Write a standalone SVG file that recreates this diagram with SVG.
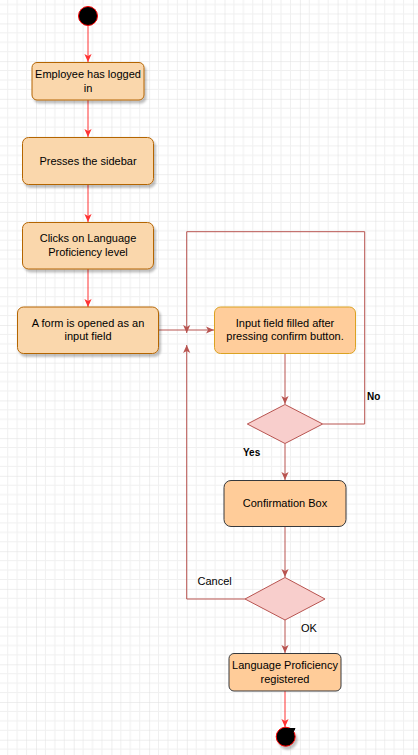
<svg xmlns="http://www.w3.org/2000/svg" width="418" height="755" viewBox="0 0 418 755">
<style>
.t{font-family:"Liberation Sans",Arial,sans-serif;font-size:11px;fill:#000;text-anchor:middle}
.l{font-family:"Liberation Sans",Arial,sans-serif;font-size:11px;fill:#000}
.b{font-weight:bold;font-size:10px}
.act{fill:#fad7ac;stroke:#b46504;stroke-width:1}
.act2{fill:#ffcc99;stroke:#36393d;stroke-width:1}
.dec{fill:#f8cecc;stroke:#b85450;stroke-width:1}
.red{fill:none;stroke:#ff3333;stroke-width:1}
.br{fill:none;stroke:#b85450;stroke-width:1}
</style>
<defs>
<pattern id="grid" patternUnits="userSpaceOnUse" x="-1.7" y="23.4" width="37.7" height="37.7">
<path d="M9.425 0V37.7M18.85 0V37.7M28.275 0V37.7M0 9.425H37.7M0 18.85H37.7M0 28.275H37.7" stroke="#f0f0f0" stroke-width="1" fill="none"/>
<path d="M0 0V37.7M0 0H37.7" stroke="#dedede" stroke-width="1" fill="none"/>
</pattern>
<filter id="sh" x="-20%" y="-20%" width="150%" height="150%">
<feDropShadow dx="2" dy="3" stdDeviation="1" flood-color="#000" flood-opacity="0.25"/>
</filter>
<marker id="ar" viewBox="0 0 10 10" refX="10" refY="5" markerWidth="8" markerHeight="8" markerUnits="userSpaceOnUse" orient="auto">
<path d="M0,0.5 L10,5 L0,9.5 L2.5,5 z" fill="#ff3333"/>
</marker>
<marker id="ab" viewBox="0 0 10 10" refX="10" refY="5" markerWidth="8" markerHeight="8" markerUnits="userSpaceOnUse" orient="auto">
<path d="M0,0.5 L10,5 L0,9.5 L2.5,5 z" fill="#b85450"/>
</marker>
</defs>
<rect width="418" height="755" fill="#ffffff"/>
<rect width="418" height="755" fill="url(#grid)"/>

<g id="connectors">
<path class="red" d="M88 25.5V62" marker-end="url(#ar)"/>
<path class="red" d="M88 100V137" marker-end="url(#ar)"/>
<path class="red" d="M88 184V222" marker-end="url(#ar)"/>
<path class="red" d="M88 269V307" marker-end="url(#ar)"/>
<path class="br" d="M158 330H214" marker-end="url(#ab)"/>
<path class="br" d="M285 353V404" marker-end="url(#ab)"/>
<path class="br" d="M322.7 424H364.7V231.7H186.7V333" marker-end="url(#ab)"/>
<path class="br" d="M285 443.5V480" marker-end="url(#ab)"/>
<path class="br" d="M285 527V577" marker-end="url(#ab)"/>
<path class="br" d="M245 599H186.7V345" marker-end="url(#ab)"/>
<path class="br" d="M285 620V653" marker-end="url(#ab)"/>
<path class="red" d="M285 691V727" marker-end="url(#ar)"/>
<text class="l b" x="367" y="399.5">No</text>
<text class="l b" x="243" y="455.5">Yes</text>
<text class="l" x="197.5" y="585">Cancel</text>
<text class="l" x="301" y="632">OK</text>
</g>

<g id="start">
<circle cx="88" cy="16" r="9.5" fill="#000" stroke="#ff0000" stroke-width="1"/>
</g>

<g id="n1">
<rect class="act" x="32" y="62.5" width="112" height="37.5" rx="5" filter="url(#sh)"/>
<text class="t" x="88" y="78">Employee has logged</text>
<text class="t" x="88" y="92">in</text>
</g>

<g id="n2">
<rect class="act" x="22.5" y="137.5" width="131" height="47" rx="6" filter="url(#sh)"/>
<text class="t" x="88" y="165">Presses the sidebar</text>
</g>

<g id="n3">
<rect class="act" x="22.5" y="222.5" width="131" height="46.5" rx="6" filter="url(#sh)"/>
<text class="t" x="88" y="242">Clicks on Language</text>
<text class="t" x="88" y="256">Proficiency level</text>
</g>

<g id="n4">
<rect class="act" x="17.5" y="307" width="141" height="46.5" rx="6" filter="url(#sh)"/>
<text class="t" x="88" y="327">A form is opened as an</text>
<text class="t" x="88" y="340">input field</text>
</g>

<g id="n5">
<rect x="214.5" y="307" width="141" height="46.5" rx="6" fill="#ffcd9b" stroke="#dba222" stroke-width="1"/>
<text class="t" x="285" y="327">Input field filled after</text>
<text class="t" x="285" y="340">pressing confirm button.</text>
</g>

<g id="d1">
<polygon class="dec" points="285,404.5 322.7,424 285,443.5 247.3,424"/>
</g>

<g id="n6">
<rect class="act2" x="224" y="480.5" width="122" height="46" rx="7"/>
<text class="t" x="285" y="507">Confirmation Box</text>
</g>

<g id="d2">
<polygon class="dec" points="285,577.5 325,599 285,620 245,599"/>
</g>

<g id="n7">
<rect class="act2" x="229" y="653.5" width="112" height="37.5" rx="5"/>
<text class="t" x="285" y="669">Language Proficiency</text>
<text class="t" x="285" y="683">registered</text>
</g>

<g id="end">
<circle cx="285.7" cy="736.7" r="9.5" fill="#000" stroke="#ff0000" stroke-width="1" filter="url(#sh)"/>
<path d="M289 728.5H295L292.5 733Z" fill="#000" stroke="#000" stroke-width="1"/>
</g>
</svg>
